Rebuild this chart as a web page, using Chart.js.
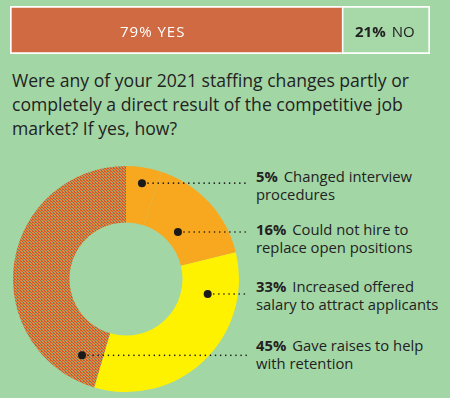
<!DOCTYPE html>
<html>
<head>
<meta charset="utf-8">
<script src="https://cdn.jsdelivr.net/npm/chart.js@4.4.1/dist/chart.umd.min.js"></script>
<style>
  html, body { margin: 0; padding: 0; background: #a3d6a5; width: 450px; height: 398px; overflow: hidden;
               font-family: "Open Sans", "Noto Sans", sans-serif; color: #222; }
  #wrap { position: relative; width: 450px; height: 398px; }
  canvas { position: absolute; }
  #graf-barra { left: 0; top: 0; }
  #graf-rosca { left: 13px; top: 166px; }
  .txt { position: absolute; white-space: nowrap; }
  #sim { left: 120px; top: 21px; font-size: 15px; color: #fff; letter-spacing: 1px; }
  #nao { left: 355px; top: 21px; font-size: 15px; color: #222; }
  #nao b { margin-right: 6px; }
  #pergunta { left: 12px; top: 68px; font-size: 17.6px; line-height: 24px; white-space: normal; width: 430px; }
  .rot { position: absolute; left: 256px; font-size: 14.8px; line-height: 18px; white-space: nowrap; }
  .rot b { margin-right: 6px; }
</style>
</head>
<body>
<div id="wrap">
  <canvas id="graf-barra" width="450" height="60"></canvas>
  <div class="txt" id="sim"></div>
  <div class="txt" id="nao"></div>
  <div class="txt" id="pergunta">Were any of your 2021 staffing changes partly or completely a direct result of the competitive job market? If yes, how?</div>
  <canvas id="graf-rosca" width="240" height="226"></canvas>
  <div id="rotulos"></div>
</div>
<script>
// dados
const RESPOSTAS = ['YES', 'NO'];
const PCT_RESPOSTAS = [79, 21];

const MOTIVOS = [
  ['Changed interview', 'procedures'],
  ['Could not hire to', 'replace open positions'],
  ['Increased offered', 'salary to attract applicants'],
  ['Gave raises to help', 'with retention'],
];
const PCT_MOTIVOS = [5, 16, 33, 45];

const LARANJA = '#f8a81f', AMARELO = '#fff200', TIJOLO = '#cf6a42',
      VERDE_CLARO = '#a6d8a8', PRETO = '#1a1a1a';

// onde cada ponto fica dentro da fatia: [fração do ângulo, fração do raio]
const POS_PONTO = [[0.52, 0.72], [0.51, 0.24], [0.2, 0.47], [0.083, 0.56]];
const X_FIM_LINHA = 234; // em coordenadas do canvas da rosca
const TOPO_ROTULOS = [167, 220, 277, 336];

// textura pontilhada da fatia maior
function texturaPontilhada() {
  const c = document.createElement('canvas');
  c.width = 3; c.height = 3;
  const g = c.getContext('2d');
  const cores = [
    ['#c8583c', '#ee8c2a', '#8ba676'],
    ['#8ba676', '#c8583c', '#ee8c2a'],
    ['#ee8c2a', '#c4603e', '#c8583c'],
  ];
  cores.forEach((linha, y) => linha.forEach((cor, x) => { g.fillStyle = cor; g.fillRect(x, y, 1, 1); }));
  return g.createPattern(c, 'repeat');
}

document.getElementById('sim').textContent = `${PCT_RESPOSTAS[0]}% ${RESPOSTAS[0]}`;
const nao = document.getElementById('nao');
const b = document.createElement('b');
b.textContent = `${PCT_RESPOSTAS[1]}%`;
nao.append(b, RESPOSTAS[1]);

const cont = document.getElementById('rotulos');
MOTIVOS.forEach((linhas, i) => {
  const d = document.createElement('div');
  d.className = 'rot';
  d.style.top = TOPO_ROTULOS[i] + 'px';
  const pct = document.createElement('b');
  pct.textContent = PCT_MOTIVOS[i] + '%';
  d.append(pct, linhas[0], document.createElement('br'), linhas[1]);
  cont.appendChild(d);
});

new Chart(document.getElementById('graf-barra'), {
  type: 'bar',
  data: {
    labels: [''],
    datasets: [
      { label: RESPOSTAS[0], data: [PCT_RESPOSTAS[0]], backgroundColor: TIJOLO,
        borderColor: '#fff', borderWidth: { top: 2, bottom: 2, left: 2, right: 0 }, borderSkipped: false },
      { label: RESPOSTAS[1], data: [PCT_RESPOSTAS[1]], backgroundColor: VERDE_CLARO,
        borderColor: '#fff', borderWidth: 2, borderSkipped: false },
    ],
  },
  options: {
    responsive: false, animation: false, indexAxis: 'y',
    layout: { padding: { left: 10, right: 20, top: 6, bottom: 6 } },
    datasets: { bar: { barPercentage: 1, categoryPercentage: 1 } },
    scales: {
      x: { stacked: true, min: 0, max: 100, display: false },
      y: { stacked: true, display: false },
    },
    plugins: { legend: { display: false }, tooltip: { enabled: false } },
  },
});

const pontosELinhas = {
  id: 'pontosELinhas',
  afterDatasetsDraw(chart) {
    const ctx = chart.ctx;
    chart.getDatasetMeta(0).data.forEach((arco, i) => {
      const { x, y, startAngle, endAngle, innerRadius, outerRadius } = arco.getProps(
        ['x', 'y', 'startAngle', 'endAngle', 'innerRadius', 'outerRadius'], true);
      const [fa, fr] = POS_PONTO[i];
      const ang = startAngle + (endAngle - startAngle) * fa;
      const r = innerRadius + (outerRadius - innerRadius) * fr;
      const px = x + Math.cos(ang) * r, py = y + Math.sin(ang) * r;
      ctx.save();
      ctx.strokeStyle = PRETO;
      ctx.lineWidth = 1.6;
      ctx.lineCap = 'round';
      ctx.setLineDash([0.1, 5]);
      ctx.beginPath();
      ctx.moveTo(px + 6, py);
      ctx.lineTo(X_FIM_LINHA, py);
      ctx.stroke();
      ctx.setLineDash([]);
      ctx.fillStyle = PRETO;
      ctx.beginPath();
      ctx.arc(px, py, 4, 0, Math.PI * 2);
      ctx.fill();
      ctx.restore();
    });
  },
};

new Chart(document.getElementById('graf-rosca'), {
  type: 'doughnut',
  data: {
    labels: MOTIVOS.map((m) => m.join(' ')),
    datasets: [{
      data: PCT_MOTIVOS,
      backgroundColor: [LARANJA, LARANJA, AMARELO, texturaPontilhada()],
      borderWidth: 0, hoverOffset: 0, offset: 0,
    }],
  },
  options: {
    responsive: false, animation: false, cutout: '50%',
    layout: { padding: { right: 14 } },
    plugins: { legend: { display: false }, tooltip: { enabled: false } },
  },
  plugins: [pontosELinhas],
});
</script>
</body>
</html>
